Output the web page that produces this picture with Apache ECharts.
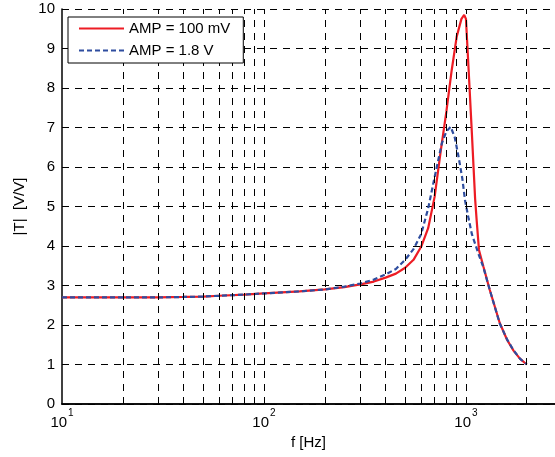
<!DOCTYPE html>
<html>
<head>
<meta charset="utf-8">
<title>|T| vs f</title>
<script src="https://cdn.jsdelivr.net/npm/echarts@6/dist/echarts.min.js"></script>
<style>
  html, body { margin: 0; padding: 0; background: #fff; }
  #main { width: 555px; height: 457px; }
</style>
</head>
<body>
<div id="main"></div>
<script>
// AMP = 100 mV
var freqRed = [10, 20, 30, 40, 50, 60, 80, 100, 150, 200, 250, 300, 350, 400, 450, 500, 550, 600, 650, 700, 750, 800, 850, 900, 950, 980, 1000, 1030, 1070, 1110, 1130, 1160, 1220, 1310, 1470, 1600, 1720, 1850, 2000];
var ampRed = [2.70, 2.70, 2.70, 2.71, 2.72, 2.74, 2.77, 2.80, 2.85, 2.90, 2.96, 3.03, 3.10, 3.20, 3.30, 3.45, 3.65, 3.98, 4.45, 5.25, 6.40, 7.40, 8.45, 9.30, 9.75, 9.85, 9.75, 8.50, 6.85, 5.20, 4.65, 3.90, 3.48, 2.90, 2.05, 1.62, 1.35, 1.15, 1.00];

// AMP = 1.8 V
var freqBlue = [10, 20, 30, 40, 50, 60, 80, 100, 150, 200, 250, 300, 350, 400, 450, 500, 550, 600, 650, 700, 760, 800, 840, 880, 920, 960, 990, 1030, 1070, 1150, 1220, 1310, 1470, 1600, 1720, 1850, 2000];
var ampBlue = [2.70, 2.70, 2.70, 2.71, 2.72, 2.74, 2.77, 2.80, 2.85, 2.90, 2.97, 3.05, 3.15, 3.28, 3.42, 3.65, 3.92, 4.30, 4.95, 5.75, 6.60, 6.90, 7.02, 6.75, 6.25, 5.70, 5.15, 4.70, 4.30, 3.82, 3.46, 2.90, 2.04, 1.63, 1.36, 1.15, 1.00];

// vertical grid lines of the log axis (decades and their multiples)
var gridX = [20, 30, 40, 50, 60, 70, 80, 90, 100, 200, 300, 400, 500, 600, 700, 800, 900, 1000, 2000];

var seriesNames = ['AMP = 100 mV', 'AMP = 1.8 V'];

function zip(xs, ys) {
  var out = [];
  for (var i = 0; i < xs.length; i++) {
    out.push([xs[i], ys[i]]);
  }
  return out;
}

var font = 'Liberation Sans, Arial, sans-serif';
var gridLine = { color: '#000', width: 1, type: [7, 6] };

var chart = echarts.init(document.getElementById('main'));

chart.setOption({
  animation: false,
  backgroundColor: '#fff',
  grid: { left: 62, right: 0, top: 9, bottom: 53 },
  legend: {
    data: seriesNames,
    orient: 'vertical',
    left: 68,
    top: 17,
    z: 20,
    padding: [4, 13, 5, 10],
    itemGap: 7,
    itemWidth: 45,
    itemHeight: 16,
    backgroundColor: '#fff',
    borderColor: '#000',
    borderWidth: 1,
    borderRadius: 0,
    itemStyle: { opacity: 0 },
    textStyle: { fontFamily: font, fontSize: 15, color: '#000' }
  },
  xAxis: [{
    type: 'log',
    logBase: 10,
    min: 10,
    max: 2760,
    splitNumber: 3,
    name: 'f [Hz]',
    nameLocation: 'middle',
    nameGap: 31,
    nameTextStyle: { fontFamily: font, fontSize: 15, color: '#000' },
    axisLine: { show: true, onZero: false, lineStyle: { color: '#000', width: 1.5 } },
    axisTick: { show: false },
    splitLine: { show: false },
    axisLabel: {
      margin: 4,
      showMaxLabel: false,
      color: '#000',
      formatter: function (v) {
        var e = Math.log10(v);
        if (Math.abs(e - Math.round(e)) > 1e-6) return '';
        return '{b|10}{s|' + Math.round(e) + '}';
      },
      rich: {
        b: { fontFamily: font, fontSize: 15, color: '#000', verticalAlign: 'bottom', lineHeight: 22 },
        s: { fontFamily: font, fontSize: 10, color: '#000', verticalAlign: 'top', lineHeight: 22, padding: [0, 0, 0, 1] }
      }
    }
  }, {
    type: 'value',
    position: 'top',
    min: 0,
    max: 1,
    axisLine: { show: true, lineStyle: { color: '#000', width: 1.5 } },
    axisTick: { show: false },
    axisLabel: { show: false },
    splitLine: { show: false }
  }],
  yAxis: {
    type: 'value',
    min: 0,
    max: 10,
    interval: 1,
    name: '|T|  [V/V]',
    nameLocation: 'middle',
    nameGap: 33,
    nameTextStyle: { fontFamily: font, fontSize: 15, color: '#000' },
    axisLine: { show: true, lineStyle: { color: '#000', width: 1.5 } },
    axisTick: { show: true, inside: true, length: 5, lineStyle: { color: '#000' } },
    axisLabel: { margin: 7, fontFamily: font, fontSize: 15, color: '#000' },
    splitLine: { show: true, lineStyle: gridLine }
  },
  series: [{
    name: 'grid',
    type: 'line',
    data: [],
    z: 1,
    markLine: {
      silent: true,
      symbol: ['none', 'none'],
      label: { show: false },
      lineStyle: gridLine,
      data: gridX.map(function (x) { return { xAxis: x }; })
    }
  }, {
    name: seriesNames[0],
    type: 'line',
    data: zip(freqRed, ampRed),
    symbol: 'none',
    z: 3,
    lineStyle: { color: '#ed1c24', width: 2.2 },
    itemStyle: { color: '#ed1c24' }
  }, {
    name: seriesNames[1],
    type: 'line',
    data: zip(freqBlue, ampBlue),
    symbol: 'none',
    z: 4,
    lineStyle: { color: '#2e4d9f', width: 2.2, type: [5, 3] },
    itemStyle: { color: '#2e4d9f' }
  }]
});
</script>
</body>
</html>
